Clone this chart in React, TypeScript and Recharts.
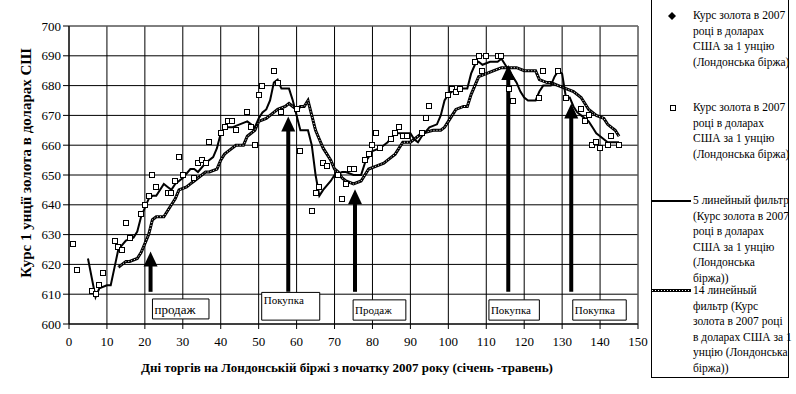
import { CartesianGrid, ComposedChart, Line, ReferenceArea, ReferenceDot, ReferenceLine, Scatter, XAxis, YAxis } from 'recharts';

const FONT = "'Liberation Serif', 'Times New Roman', serif";

const xTicks = [0, 10, 20, 30, 40, 50, 60, 70, 80, 90, 100, 110, 120, 130, 140, 150];
const yTicks = [600, 610, 620, 630, 640, 650, 660, 670, 680, 690, 700];

// daily gold price, London
const priceDays = [1, 2, 6, 7, 8, 9, 12, 13, 14, 15, 16, 19, 20, 21, 22, 23, 26, 27, 28, 29, 30, 33, 34, 35, 36, 37, 40, 41, 42, 43, 44, 47, 48, 49, 50, 51, 54, 55, 56, 60, 61, 64, 65, 66, 67, 68, 71, 72, 73, 74, 75, 78, 79, 80, 81, 82, 85, 86, 87, 88, 89, 93, 94, 95, 100, 101, 102, 103, 107, 108, 109, 110, 113, 114, 116, 117, 124, 125, 129, 131, 135, 136, 137, 138, 139, 140, 142, 143, 145];
const priceValues = [627, 618, 611, 610, 613, 617, 628, 626, 625, 634, 629, 637, 640, 643, 650, 646, 644, 644, 648, 656, 650, 649, 654, 655, 654, 661, 664, 666, 668, 668, 665, 671, 666, 660, 677, 680, 685, 681, 671, 672, 658, 638, 644, 646, 654, 653, 650, 642, 647, 652, 652, 655, 657, 660, 664, 659, 662, 664, 666, 663, 663, 664, 669, 673, 677, 679, 678, 679, 688, 690, 685, 690, 690, 690, 679, 675, 676, 685, 685, 676, 672, 668, 670, 660, 661, 659, 660, 663, 660];

// 5-day filter
const ma5Days = [5, 7, 8, 10, 11, 12, 13, 15, 17, 18, 19, 21, 22, 23, 25, 26, 27, 28, 30, 32, 33, 34, 36, 38, 39, 40, 41, 43, 45, 47, 48, 49, 50, 51, 52, 53, 54, 55, 56, 58, 59, 60, 61, 63, 64, 65, 66, 67, 69, 70, 72, 73, 75, 77, 78, 80, 82, 84, 86, 88, 90, 91, 92, 93, 95, 97, 98, 99, 100, 101, 103, 105, 106, 107, 108, 109, 111, 113, 114, 115, 116, 117, 118, 119, 120, 121, 123, 124, 125, 127, 128, 129, 130, 131, 132, 133, 134, 135, 136, 137, 138, 139, 140, 141, 142, 143, 145];
const ma5Values = [622, 609, 612, 613, 613, 619, 625, 628, 629, 631, 636, 642, 643, 643, 647, 646, 645, 647, 649, 652, 652, 651, 654, 656, 659, 664, 666, 666, 667, 668, 667, 666, 669, 671, 672, 675, 681, 682, 679, 679, 675, 670, 665, 665, 660, 650, 643, 645, 648, 650, 651, 651, 650, 650, 654, 658, 659, 661, 664, 664, 664, 662, 661, 663, 666, 667, 670, 675, 677, 678, 679, 679, 684, 687, 688, 687, 688, 688, 689, 687, 685, 683, 681, 678, 676, 675, 675, 678, 680, 680, 683, 685, 684, 676, 676, 673, 671, 670, 669, 668, 666, 664, 663, 662, 661, 661, 661];

// 14-day filter
const ma14Days = [13, 15, 16, 18, 19, 20, 21, 22, 23, 25, 26, 27, 28, 29, 31, 32, 33, 34, 36, 37, 39, 40, 41, 42, 44, 46, 47, 48, 49, 50, 52, 54, 55, 57, 58, 59, 60, 61, 62, 63, 64, 65, 66, 67, 68, 69, 70, 71, 72, 73, 75, 77, 78, 79, 81, 83, 84, 86, 88, 90, 91, 93, 96, 98, 99, 100, 101, 102, 104, 105, 106, 107, 108, 110, 112, 114, 116, 118, 120, 122, 123, 124, 126, 127, 129, 131, 133, 135, 136, 137, 138, 139, 141, 142, 143, 144, 145];
const ma14Values = [619, 621, 621, 622, 624, 627, 630, 635, 636, 636, 638, 640, 642, 645, 646, 647, 648, 649, 651, 651, 652, 655, 657, 658, 660, 660, 663, 664, 665, 668, 669, 671, 672, 673, 674, 673, 672, 673, 673, 675, 670, 665, 662, 659, 657, 655, 652, 651, 649, 648, 647, 648, 650, 652, 653, 654, 655, 657, 661, 661, 662, 664, 665, 665, 666, 668, 670, 672, 673, 673, 677, 680, 683, 684, 685, 686, 686, 686, 685, 685, 685, 682, 681, 681, 680, 679, 678, 676, 674, 672, 671, 670, 669, 667, 666, 665, 663];

// trade signals
const signalDays = [21.5, 57.8, 75.4, 115.8, 132.4];
const signalTips = [624.3, 669.6, 645.2, 686.9, 674];
const signalBase = 610.8;

const noteTexts = ['продаж', 'Покупка', 'Продаж', 'Покупка', 'Покупка'];
const noteFrom = [22, 50.8, 74.9, 110.7, 132.8];
const noteTo = [36.9, 66.1, 88.8, 124, 146.9];
const noteTop = [608.4, 610.6, 608.1, 608.1, 608.1];
const noteBottom = [601.7, 601.3, 601.3, 601.3, 601.3];

const zip = (days: number[], values: number[]) => days.map((day, i) => ({ day, value: values[i] }));

const priceData = zip(priceDays, priceValues);
const ma5Data = zip(ma5Days, ma5Values);
const ma14Data = zip(ma14Days, ma14Values);

const noteStyle = [
	{ size: 13, top: false },
	{ size: 11, top: true },
	{ size: 11, top: false },
	{ size: 11, top: false },
	{ size: 11, top: false },
];

const SquareDot = (props: any) => {
	const { cx, cy } = props;
	if (cx == null || cy == null) return null;
	return <rect x={Math.round(cx) - 2.5} y={Math.round(cy) - 2.5} width={5} height={5} fill='#fff' stroke='#000' strokeWidth={1} />;
};

const ArrowHead = (props: any) => {
	const { cx, cy } = props;
	if (cx == null || cy == null) return null;
	return <path d={`M${cx},${cy} L${cx - 7},${cy + 15} L${cx + 7},${cy + 15} Z`} fill='#000' />;
};

const legendText = {
	position: 'absolute' as const,
	left: 41,
	fontFamily: FONT,
	fontSize: 11.5,
	lineHeight: '15.5px',
	color: '#000',
	whiteSpace: 'nowrap' as const,
};

const LegendBox = () => (
	<div
		style={{
			position: 'absolute',
			left: 651,
			top: -1,
			width: 136,
			height: 377,
			border: '1px solid #000',
			background: '#fff',
		}}>
		<svg width={136} height={377} style={{ position: 'absolute', left: 0, top: 0 }}>
			<path d='M20,12 L24,16 L20,20 L16,16 Z' fill='#000' />
			<rect x={18.5} y={105.5} width={5} height={5} fill='#fff' stroke='#000' />
			<line x1={0} x2={39} y1={201} y2={201} stroke='#000' strokeWidth={2} />
			<line x1={0} x2={39} y1={290.5} y2={290.5} stroke='#000' strokeWidth={3} />
			<line x1={0} x2={39} y1={290.5} y2={290.5} stroke='#fff' strokeWidth={1} strokeDasharray='1 2' />
		</svg>
		<div style={{ ...legendText, top: 8 }}>
			Курс золота в 2007
			<br />
			році в доларах
			<br />
			США за 1 унцію
			<br />
			(Лондонська біржа)
		</div>
		<div style={{ ...legendText, top: 100 }}>
			Курс золота в 2007
			<br />
			році в доларах
			<br />
			США за 1 унцію
			<br />
			(Лондонська біржа)
		</div>
		<div style={{ ...legendText, top: 193 }}>
			5 линейный фильтр
			<br />
			(Курс золота в 2007
			<br />
			році в доларах
			<br />
			США за 1 унцію
			<br />
			(Лондонська
			<br />
			біржа))
		</div>
		<div style={{ ...legendText, top: 283 }}>
			14 линейный
			<br />
			фильтр (Курс
			<br />
			золота в 2007 році
			<br />
			в доларах США за 1
			<br />
			унцію (Лондонська
			<br />
			біржа))
		</div>
	</div>
);

export default function App() {
	return (
		<div style={{ position: 'absolute', left: 0, top: 0, width: 796, height: 394, background: '#fff' }}>
			<ComposedChart width={796} height={394} margin={{ top: 26, right: 158, bottom: 40, left: 9 }}>
				<CartesianGrid stroke='#000' strokeWidth={1} />
				<XAxis
					type='number'
					dataKey='day'
					domain={[0, 150]}
					ticks={xTicks}
					interval={0}
					height={30}
					stroke='#000'
					tickSize={5}
					tickMargin={8}
					tick={{ fill: '#000', fontSize: 13, fontFamily: FONT }}
					label={{
						content: () => (
							<text x={347} y={372} textAnchor='middle' fontFamily={FONT} fontSize={13} fontWeight='bold' fill='#000'>
								Дні торгів на Лондонській біржі з початку 2007 року (січень -травень)
							</text>
						),
					}}
				/>
				<YAxis
					type='number'
					dataKey='value'
					domain={[600, 700]}
					ticks={yTicks}
					interval={0}
					width={60}
					stroke='#000'
					tickSize={6}
					tickMargin={2}
					tick={{ fill: '#000', fontSize: 13, fontFamily: FONT }}
					label={{
						content: () => (
							<text
								x={0}
								y={0}
								transform='translate(31,163) rotate(-90)'
								textAnchor='middle'
								fontFamily={FONT}
								fontSize={15}
								fontWeight='bold'
								fill='#000'>
								Курс 1 унції золота в доларах СШ
							</text>
						),
					}}
				/>
				<ReferenceLine y={700} stroke='#808080' />
				<ReferenceLine x={150} stroke='#808080' />
				{noteTexts.map((text, i) => (
					<ReferenceArea
						key={`note-${i}`}
						x1={noteFrom[i]}
						x2={noteTo[i]}
						y1={noteBottom[i]}
						y2={noteTop[i]}
						fill='#fff'
						fillOpacity={1}
						stroke='#000'
						strokeWidth={1}
						label={{
							content: (p: any) => {
								const vb = p.viewBox || {};
								const st = noteStyle[i];
								const y = st.top ? vb.y + 12 : vb.y + vb.height / 2 + st.size * 0.35;
								return (
									<text x={vb.x + 2} y={y} fontFamily={FONT} fontSize={st.size} fill='#000'>
										{text}
									</text>
								);
							},
						}}
					/>
				))}
				<Line
					data={ma14Data}
					dataKey='value'
					type='linear'
					stroke='#000'
					strokeWidth={3}
					dot={false}
					isAnimationActive={false}
				/>
				<Line
					data={ma14Data}
					dataKey='value'
					type='linear'
					stroke='#fff'
					strokeWidth={1}
					strokeDasharray='1 2'
					dot={false}
					isAnimationActive={false}
				/>
				<Line
					data={ma5Data}
					dataKey='value'
					type='linear'
					stroke='#000'
					strokeWidth={2}
					dot={false}
					isAnimationActive={false}
				/>
				<Scatter data={priceData} dataKey='value' shape={<SquareDot />} isAnimationActive={false} />
				{signalDays.map((d, i) => (
					<ReferenceLine
						key={`shaft-${i}`}
						segment={[
							{ x: d, y: signalBase },
							{ x: d, y: signalTips[i] - 3 },
						]}
						stroke='#000'
						strokeWidth={4}
					/>
				))}
				{signalDays.map((d, i) => (
					<ReferenceDot key={`head-${i}`} x={d} y={signalTips[i]} r={7} shape={<ArrowHead />} />
				))}
			</ComposedChart>
			<LegendBox />
		</div>
	);
}
